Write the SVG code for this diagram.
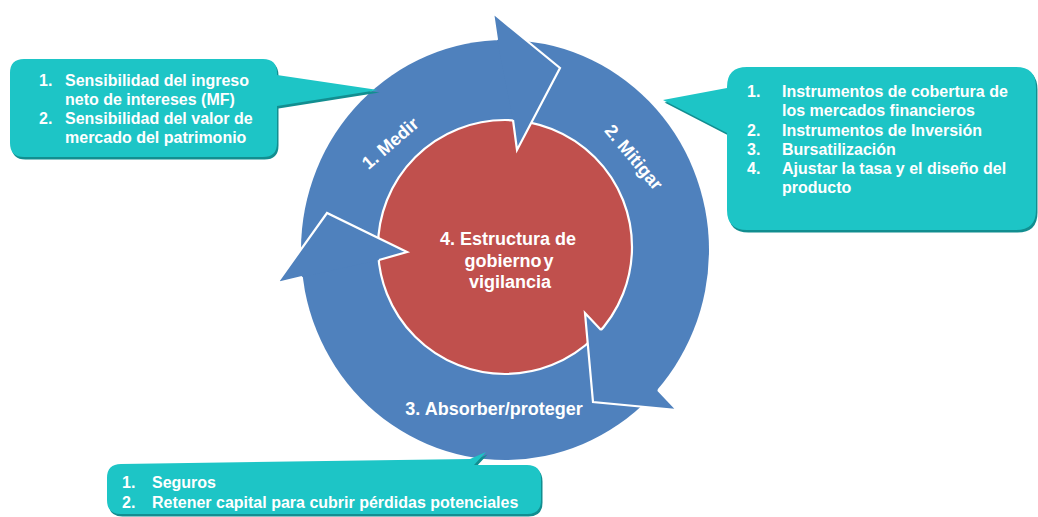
<svg xmlns="http://www.w3.org/2000/svg" xmlns:xlink="http://www.w3.org/1999/xlink" width="1038" height="517" viewBox="0 0 1038 517">
<style>
.callout{fill:#1DC5C6;}
.shadow{fill:#128E90;}
.ct{font-family:"Liberation Sans",Arial,sans-serif;font-weight:bold;font-size:16px;fill:#FFFFFF;}
.lbl{font-family:"Liberation Sans",Arial,sans-serif;font-weight:bold;font-size:18px;fill:#FFFFFF;}
.ring{fill:#4F81BD;}
.head{fill:#4F81BD;stroke:#FFFFFF;stroke-width:2.2;stroke-linejoin:miter;}
.core{fill:#C0504D;stroke:#FFFFFF;stroke-width:2.2;}
</style>
<defs>
<path id="c1" d="M24,59 H263 Q277,59 277,73 V75 L378,90 L277,106 V143 Q277,157 263,157 H24 Q10,157 10,143 V73 Q10,59 24,59 Z"/>
<path id="c2" d="M747,67 H1016 Q1036,67 1036,87 V210 Q1036,230 1016,230 H747 Q727,230 727,210 V133 L663,100 L727,88 V87 Q727,67 747,67 Z"/>
<path id="c3" d="M121,464 L470,459 L486,452 L474,465 H527 Q541,465 541,479 V500 Q541,514 527,514 H121 Q107,514 107,500 V478 Q107,464 121,464 Z"/>
</defs>
<rect width="1038" height="517" fill="#FFFFFF"/>

<!-- cycle ring with arrows -->
<g id="cycle-ring">
<ellipse class="ring" cx="505" cy="250" rx="204" ry="210"/>
</g>
<g id="node-gobierno">
<circle class="core" cx="505" cy="247" r="127"/>
<text class="lbl" text-anchor="middle" x="508" y="245">4. Estructura de</text>
<text class="lbl" text-anchor="middle" x="509" y="266.5" word-spacing="-3">gobierno y</text>
<text class="lbl" text-anchor="middle" x="510" y="288">vigilancia</text>
</g>
<g id="connectors">
<path id="arrow-medir" class="head" d="M497,40 L493,13 L560,68 L517,150 L513,120"/>
<path id="arrow-mitigar" class="head" d="M658,390 L677,410 L593,402 L585,313 L601,330"/>
<path id="arrow-absorber" class="head" d="M302,277 L277,283 L327,213 L407,252 L379,260"/>
</g>
<g id="node-medir">
<text class="lbl" text-anchor="middle" transform="translate(390,143) rotate(-41)" x="0" y="6.5">1. Medir</text>
</g>
<g id="node-mitigar">
<text class="lbl" text-anchor="middle" transform="translate(634,157) rotate(50)" x="0" y="6.5">2. Mitigar</text>
</g>
<g id="node-absorber">
<text class="lbl" text-anchor="middle" x="494" y="415">3. Absorber/proteger</text>
</g>

<!-- callout 1 -->
<g id="callout-medir">
<use xlink:href="#c1" class="shadow" transform="translate(1.5,2.5)"/>
<use xlink:href="#c1" class="callout"/>
<text class="ct" x="39" y="85.5">1.</text>
<text class="ct" x="65" y="85.5">Sensibilidad del ingreso</text>
<text class="ct" x="65" y="104.5">neto de intereses (MF)</text>
<text class="ct" x="39" y="123.5">2.</text>
<text class="ct" x="65" y="123.5">Sensibilidad del valor de</text>
<text class="ct" x="65" y="142.5">mercado del patrimonio</text>
</g>

<!-- callout 2 -->
<g id="callout-mitigar">
<use xlink:href="#c2" class="shadow" transform="translate(1.5,2.5)"/>
<use xlink:href="#c2" class="callout"/>
<text class="ct" x="747" y="97">1.</text>
<text class="ct" x="782" y="97">Instrumentos de cobertura de</text>
<text class="ct" x="782" y="116">los mercados financieros</text>
<text class="ct" x="747" y="135.5">2.</text>
<text class="ct" x="782" y="135.5">Instrumentos de Inversión</text>
<text class="ct" x="747" y="154.5">3.</text>
<text class="ct" x="782" y="154.5">Bursatilización</text>
<text class="ct" x="747" y="174">4.</text>
<text class="ct" x="782" y="174">Ajustar la tasa y el diseño del</text>
<text class="ct" x="782" y="193">producto</text>
</g>

<!-- callout 3 -->
<g id="callout-absorber">
<use xlink:href="#c3" class="shadow" transform="translate(1.5,2.5)"/>
<use xlink:href="#c3" class="callout"/>
<text class="ct" x="122" y="488">1.</text>
<text class="ct" x="152" y="488">Seguros</text>
<text class="ct" x="122" y="508">2.</text>
<text class="ct" x="152" y="508">Retener capital para cubrir pérdidas potenciales</text>
</g>
</svg>
